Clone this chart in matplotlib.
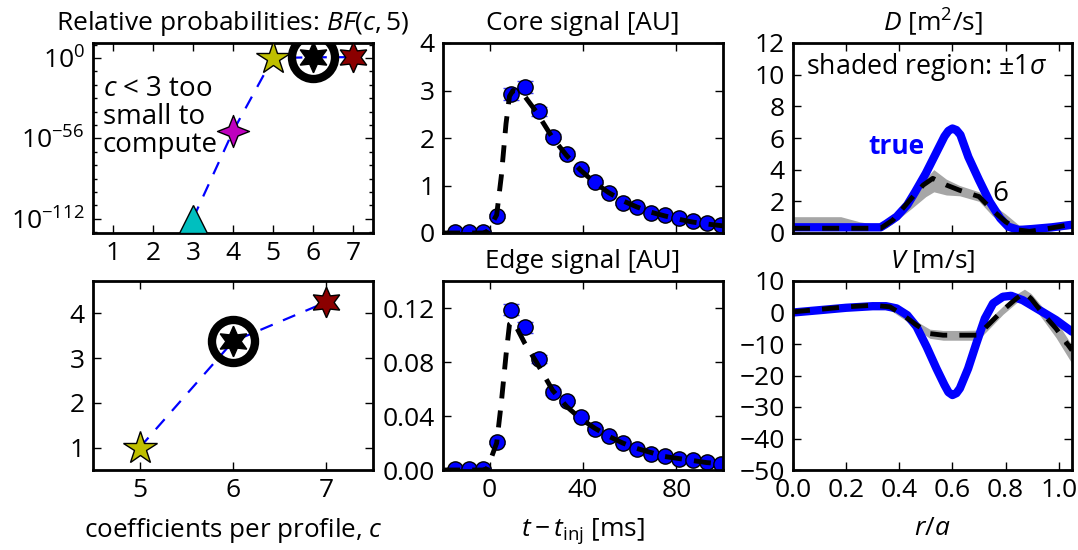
import numpy as np
import matplotlib
matplotlib.use('Agg')
import matplotlib.pyplot as plt
from matplotlib.path import Path
from matplotlib.ticker import FixedLocator, NullFormatter

plt.rcParams.update({
    'font.family': 'Open Sans',
    'font.size': 19,
    'axes.titlesize': 19,
    'axes.labelsize': 19,
    'xtick.labelsize': 19,
    'ytick.labelsize': 19,
    'mathtext.fontset': 'custom',
    'mathtext.rm': 'Open Sans',
    'mathtext.it': 'Open Sans:italic',
    'mathtext.bf': 'Open Sans:bold',
    'axes.linewidth': 2.0,
    'xtick.direction': 'in', 'ytick.direction': 'in',
    'xtick.top': True, 'ytick.right': True,
    'xtick.major.size': 6, 'ytick.major.size': 6,
    'xtick.minor.size': 3, 'ytick.minor.size': 3,
    'xtick.major.width': 1.0, 'ytick.major.width': 1.0,
    'ytick.minor.width': 1.0,
    'xtick.major.pad': 6, 'ytick.major.pad': 6,
})

# ---- data: model selection ----
c_vals = [3, 4, 5, 6, 7]
bf_vals = [1e-112, 1e-51, 1.0, 3.37, 4.25]

# ---- data: signals ----
t_obs = [-15, -9, -3, 3, 9, 15, 21, 27, 33, 39, 45, 51, 57, 63, 69, 75, 81, 87, 93, 99]
core_obs = [0.02, 0.02, 0.02, 0.36, 2.93, 3.07, 2.56, 2.03, 1.67, 1.35,
            1.07, 0.85, 0.63, 0.55, 0.42, 0.38, 0.31, 0.26, 0.21, 0.17]
core_err = [0.02, 0.02, 0.02, 0.05, 0.12, 0.12, 0.10, 0.06, 0.05, 0.04,
            0.04, 0.03, 0.03, 0.02, 0.02, 0.02, 0.02, 0.02, 0.02, 0.02]
edge_obs = [0.001, 0.001, 0.001, 0.0204, 0.1186, 0.1056, 0.0823, 0.0577, 0.0508, 0.0393,
            0.0307, 0.0255, 0.0203, 0.0155, 0.012, 0.0103, 0.0085, 0.0076, 0.006, 0.0045]
edge_err = [0.0005, 0.0005, 0.0005, 0.001, 0.004, 0.004, 0.003, 0.002, 0.001, 0.001,
            0.001, 0.001, 0.001, 0.001, 0.001, 0.001, 0.001, 0.001, 0.001, 0.001]

t_fit = [-20, -3, -1, 3, 5, 7, 8.5, 10, 12, 15, 20, 27, 33, 39, 45, 51, 57, 63, 69, 75, 81, 87, 93, 100]
core_fit = [0.0, 0.0, 0.03, 0.38, 1.2, 2.3, 2.88, 3.0, 2.97, 2.88, 2.55, 2.0, 1.63, 1.32,
            1.06, 0.85, 0.68, 0.55, 0.44, 0.36, 0.29, 0.23, 0.19, 0.15]
edge_fit = [0.0, 0.0, 0.001, 0.02, 0.05, 0.085, 0.108, 0.11, 0.104, 0.094, 0.08, 0.059, 0.047,
            0.038, 0.031, 0.025, 0.020, 0.016, 0.013, 0.010, 0.0085, 0.007, 0.0055, 0.0045]

# ---- data: transport profiles ----
r_D_true = [0.0, 0.33, 0.35, 0.39, 0.43, 0.46, 0.50, 0.54, 0.57, 0.585, 0.60, 0.615, 0.63,
            0.66, 0.70, 0.74, 0.78, 0.81, 0.85, 0.90, 0.975, 1.05]
D_true = [0.36, 0.36, 0.57, 1.03, 1.77, 2.6, 3.77, 5.1, 6.1, 6.45, 6.6, 6.5, 6.2,
          4.8, 3.35, 1.98, 0.93, 0.4, 0.19, 0.25, 0.36, 0.52]
r_D_fit = [0.0, 0.33, 0.376, 0.44, 0.49, 0.526, 0.577, 0.627, 0.70, 0.75, 0.80,
           0.85, 0.89, 0.95, 1.05]
D_fit = [0.3, 0.3, 0.82, 2.08, 3.03, 3.45, 3.03, 2.7, 2.3, 1.45, 0.71,
         0.19, 0.1, 0.25, 0.55]
r_D_band = [0.0, 0.18, 0.25, 0.33, 0.376, 0.45, 0.50, 0.53, 0.577, 0.627, 0.70,
            0.75, 0.80, 0.85, 0.90, 1.05]
D_lo = [0.15, 0.15, 0.15, 0.15, 0.6, 1.6, 2.3, 2.6, 2.4, 2.35, 2.0,
        1.1, 0.42, 0.0, 0.0, 0.3]
D_hi = [1.03, 1.03, 0.71, 0.5, 1.03, 2.6, 3.45, 4.0, 3.4, 3.0, 2.6,
        1.8, 1.2, 0.5, 0.4, 0.8]

r_V_true = [0.0, 0.1, 0.2, 0.3, 0.35, 0.39, 0.43, 0.465, 0.503, 0.54, 0.57, 0.585, 0.6,
            0.615, 0.628, 0.659, 0.69, 0.722, 0.753, 0.79, 0.821, 0.865, 0.928, 0.99, 1.05]
V_true = [0.0, 0.74, 1.5, 2.0, 2.0, 1.3, -0.85, -4.5, -10.9, -17.8, -23.0, -25.3, -26.2,
          -25.6, -24.1, -17.8, -9.8, -1.9, 2.9, 5.0, 5.3, 3.9, 0.74, -2.4, -6.1]
r_V_fit = [0.0, 0.2, 0.3, 0.365, 0.415, 0.465, 0.515, 0.565, 0.64, 0.696, 0.74,
           0.79, 0.84, 0.871, 0.896, 0.94, 0.99, 1.05]
V_fit = [0.2, 1.8, 2.3, 1.8, -0.85, -4.0, -6.7, -7.2, -7.2, -7.2, -3.5,
         0.74, 4.4, 6.3, 4.4, -0.3, -5.1, -12.0]
V_lo = [-0.8, 0.8, 1.3, 0.8, -2.0, -5.3, -8.2, -8.8, -8.8, -8.8, -5.0,
        -0.6, 3.0, 5.0, 2.8, -2.2, -8.0, -16.2]
V_hi = [1.2, 2.8, 3.3, 2.8, 0.3, -2.8, -5.3, -5.7, -5.7, -5.6, -2.0,
        2.0, 5.8, 7.4, 6.0, 1.6, -2.6, -10.4]

W, H = 1078, 550
fig = plt.figure(figsize=(W / 100, H / 100), dpi=100)


def add_ax(left, top, width, height):
    return fig.add_axes([left / W, (H - top - height) / H, width / W, height / H])


ax_bf = add_ax(93, 43, 280, 190)
ax_bf2 = add_ax(93, 281, 280, 189)
ax_core = add_ax(443, 43, 280, 190)
ax_edge = add_ax(443, 281, 280, 189)
ax_D = add_ax(793, 43, 279, 190)
ax_V = add_ax(793, 281, 279, 189)

star4 = Path.unit_regular_star(4, 0.4)
marker_styles = [
    dict(marker='^', mfc='c', ms=20),
    dict(marker=star4, mfc='m', ms=23),
    dict(marker='*', mfc='y', ms=25),
    dict(marker=(6, 1, 0), mfc='k', ms=22),
    dict(marker=(6, 1, 0), mfc='#8b0000', ms=22),
]


def draw_bf(ax, cs, vals, styles):
    ax.plot(cs, vals, 'b--', lw=1.6, dashes=(6, 5), zorder=2)
    for c, v, st in zip(cs, vals, styles):
        if c == 6:
            ax.plot(c, v, 'o', mfc='none', mec='k', mew=6, ms=31, zorder=3)
        ax.plot(c, v, ls='none', mec='k', mew=1, zorder=4, **st)


# ---- top-left: log Bayes factors ----
draw_bf(ax_bf, c_vals, bf_vals, marker_styles)
ax_bf.set_yscale('log')
ax_bf.set_ylim(10 ** -122, 10 ** 10.5)
ax_bf.set_xlim(0.5, 7.5)
ax_bf.set_xticks([1, 2, 3, 4, 5, 6, 7])
ax_bf.yaxis.set_major_locator(FixedLocator([1e-112, 1e-56, 1.0]))
ax_bf.yaxis.set_minor_locator(FixedLocator(10.0 ** (np.arange(-18, 3) * 56 / 6)))
ax_bf.yaxis.set_minor_formatter(NullFormatter())
ax_bf.set_title('Relative probabilities: $BF(c, 5)$', pad=9)
ax_bf.text(0.035, 0.83, '$c$ < 3 too\nsmall to\ncompute', transform=ax_bf.transAxes,
           ha='left', va='top', linespacing=1.0, fontsize=20)

# ---- bottom-left: linear Bayes factors ----
draw_bf(ax_bf2, c_vals[2:], bf_vals[2:], marker_styles[2:])
ax_bf2.set_xlim(4.5, 7.5)
ax_bf2.set_ylim(0.5, 4.72)
ax_bf2.set_xticks([5, 6, 7])
ax_bf2.set_yticks([1, 2, 3, 4])
ax_bf2.set_xlabel('coefficients per profile, $c$', labelpad=9, fontsize=18.7)

# ---- middle: signals ----
for ax, obs, err, fit in [(ax_core, core_obs, core_err, core_fit),
                          (ax_edge, edge_obs, edge_err, edge_fit)]:
    ax.errorbar(t_obs, obs, yerr=err, fmt='o', color='b', mec='k', mew=1, ms=11,
                ecolor='#4040ff', elinewidth=1, capsize=6, zorder=2)
    ax.plot(t_fit, fit, 'k--', lw=3.5, dashes=(3.5, 2.5), zorder=3)
    ax.set_xlim(-20, 100)
    ax.set_xticks([0, 40, 80])

ax_core.set_ylim(0, 4)
ax_core.set_yticks([0, 1, 2, 3, 4])
ax_core.set_xticklabels([])
ax_core.set_title('Core signal [AU]', pad=9, fontsize=18.7)

ax_edge.set_ylim(0, 0.14)
ax_edge.set_yticks([0.0, 0.04, 0.08, 0.12])
ax_edge.set_yticklabels(['0.00', '0.04', '0.08', '0.12'])
ax_edge.set_title('Edge signal [AU]', pad=9, fontsize=18.7)
ax_edge.set_xlabel(r'$t-t_{\rm inj}$ [ms]', labelpad=9)

# ---- right: D and V profiles ----
ax_D.fill_between(r_D_band, D_lo, D_hi, color='0.65', lw=0, zorder=1)
ax_D.plot(r_D_true, D_true, color='b', lw=6, solid_capstyle='round',
          solid_joinstyle='round', zorder=2)
ax_D.plot(r_D_fit, D_fit, 'k--', lw=3.5, dashes=(3.5, 2.5), zorder=3)
ax_D.set_xlim(0, 1.05)
ax_D.set_ylim(0, 12)
ax_D.set_xticks([0.0, 0.2, 0.4, 0.6, 0.8, 1.0])
ax_D.set_yticks([0, 2, 4, 6, 8, 10, 12])
ax_D.set_xticklabels([])
ax_D.set_title('$D$ [m$^2$/s]', pad=9)
ax_D.text(0.05, 10.5, r'shaded region: $\pm1\sigma$', ha='left', va='center', fontsize=19.3)
ax_D.text(0.495, 5.0, 'true', color='b', fontweight='bold', ha='right', va='baseline')
ax_D.text(0.75, 2.0, '6', ha='left', va='baseline', fontsize=20)

ax_V.fill_between(r_V_fit, V_lo, V_hi, color='0.65', lw=0, zorder=1)
ax_V.plot(r_V_true, V_true, color='b', lw=6, solid_capstyle='round',
          solid_joinstyle='round', zorder=2)
ax_V.plot(r_V_fit, V_fit, 'k--', lw=3.5, dashes=(3.5, 2.5), zorder=3)
ax_V.set_xlim(0, 1.05)
ax_V.set_ylim(-50, 10)
ax_V.set_xticks([0.0, 0.2, 0.4, 0.6, 0.8, 1.0])
ax_V.set_yticks([-50, -40, -30, -20, -10, 0, 10])
ax_V.set_title('$V$ [m/s]', pad=9)
ax_V.set_xlabel('$r/a$', labelpad=9)

fig.savefig('out.png', dpi=100)
